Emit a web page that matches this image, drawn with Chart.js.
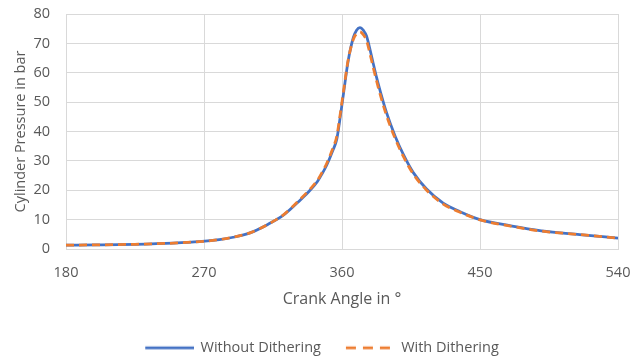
<!DOCTYPE html>
<html>
<head>
<meta charset="utf-8">
<script src="https://cdn.jsdelivr.net/npm/chart.js@4/dist/chart.umd.min.js"></script>
<style>
  html, body { margin: 0; padding: 0; background: #ffffff; }
  #wrap { width: 632px; height: 357px; }
</style>
</head>
<body>
<div id="wrap"><canvas id="c" width="632" height="357"></canvas></div>
<script>
const seriesNames = ["Without Dithering", "With Dithering"];
const xTicks = [180, 270, 360, 450, 540];
const yTicks = [0, 10, 20, 30, 40, 50, 60, 70, 80];

const angles = [180, 200, 225, 250, 267, 280, 289, 300, 311, 322, 333, 339, 344, 347, 350, 354, 356.6, 359, 361, 364, 367.4, 369.5, 371.7, 374, 376, 378, 380, 382.5, 384.8, 389, 394.6, 400, 406.5, 415, 426, 437, 450, 470, 490, 515, 540];
const withoutDithering = [1.3, 1.4, 1.6, 2.0, 2.5, 3.2, 4.0, 5.5, 8.2, 11.6, 16.8, 19.9, 23.0, 25.6, 28.5, 33.5, 37.4, 45.5, 53.0, 64.0, 72.0, 74.5, 75.4, 74.4, 72.5, 68.5, 64.0, 58.5, 54.0, 46.5, 38.5, 32.2, 26.0, 20.5, 15.6, 12.7, 10.0, 7.9, 6.2, 4.9, 3.7];
const withDithering = [1.3, 1.4, 1.6, 2.0, 2.5, 3.2, 4.0, 5.5, 8.2, 11.7, 17.1, 20.3, 23.4, 26.1, 29.1, 34.3, 38.4, 46.5, 53.8, 64.3, 71.4, 73.3, 73.9, 72.9, 71.0, 67.0, 62.6, 57.3, 52.8, 45.5, 37.7, 31.5, 25.5, 20.1, 15.3, 12.5, 9.9, 7.8, 6.1, 4.9, 3.7];

function pts(ys) { return angles.map((a, i) => ({ x: a, y: ys[i] })); }

const textColor = '#595959';
const gridColor = '#d9d9d9';
const fontFamily = '"Open Sans", sans-serif';
const colors = ['#4472C4', '#ED7D31'];
const dashes = [[], [10, 7]];

function legendLine(color, dash) {
  const cv = document.createElement('canvas');
  cv.width = 65; cv.height = 6;
  const g = cv.getContext('2d');
  g.strokeStyle = color;
  g.lineWidth = 2.75;
  g.setLineDash(dash);
  g.beginPath();
  g.moveTo(16, 3);
  g.lineTo(65, 3);
  g.stroke();
  return cv;
}
const legendImgs = colors.map((c, i) => legendLine(c, dashes[i]));

new Chart(document.getElementById('c'), {
  type: 'line',
  data: {
    datasets: [
      {
        label: seriesNames[0],
        data: pts(withoutDithering),
        borderColor: colors[0],
        backgroundColor: colors[0],
        borderWidth: 2.75,
        pointRadius: 0,
        cubicInterpolationMode: 'monotone',
        order: 1
      },
      {
        label: seriesNames[1],
        data: pts(withDithering),
        borderColor: colors[1],
        backgroundColor: colors[1],
        borderWidth: 2.75,
        borderDash: [8, 5],
        pointRadius: 0,
        cubicInterpolationMode: 'monotone',
        order: 0
      }
    ]
  },
  options: {
    responsive: false,
    animation: false,
    layout: { padding: { left: 11, right: 14, top: 14, bottom: -8 } },
    plugins: {
      tooltip: { enabled: false },
      legend: {
        position: 'bottom',
        labels: {
          sort: (a, b) => a.datasetIndex - b.datasetIndex,
          generateLabels: (chart) => {
            const items = Chart.defaults.plugins.legend.labels.generateLabels(chart);
            items.forEach(it => { it.pointStyle = legendImgs[it.datasetIndex]; });
            return items;
          },
          usePointStyle: true,
          pointStyleWidth: 63,
          boxHeight: 14,
          color: textColor,
          font: { family: fontFamily, size: 14.5 },
          padding: 10
        }
      }
    },
    scales: {
      x: {
        type: 'linear',
        min: 180,
        max: 540,
        afterBuildTicks: (axis) => { axis.ticks = xTicks.map(v => ({ value: v })); },
        afterFit: (axis) => {
          axis.height = 116 - axis.chart.legend.height;
          axis.paddingLeft = 0;
          axis.paddingRight = 0;
        },
        ticks: { color: textColor, font: { family: fontFamily, size: 14.5 }, padding: 15 },
        grid: { color: gridColor, drawTicks: false, lineWidth: 1 },
        border: { color: gridColor },
        title: { display: true, text: 'Crank Angle in °', color: textColor, font: { family: fontFamily, size: 16 }, padding: { top: 0, bottom: 21 } }
      },
      y: {
        min: 0,
        max: 80,
        afterBuildTicks: (axis) => { axis.ticks = yTicks.map(v => ({ value: v })); },
        afterFit: (axis) => {
          axis.width = 55;
          axis.paddingTop = 0;
          axis.paddingBottom = 0;
        },
        ticks: { color: textColor, font: { family: fontFamily, size: 14.5 }, padding: 16 },
        grid: { color: gridColor, drawTicks: false, lineWidth: 1 },
        border: { display: false },
        title: { display: true, text: 'Cylinder Pressure in bar', color: textColor, font: { family: fontFamily, size: 14.5 }, padding: { top: 1, bottom: 0 } }
      }
    }
  }
});
</script>
</body>
</html>
